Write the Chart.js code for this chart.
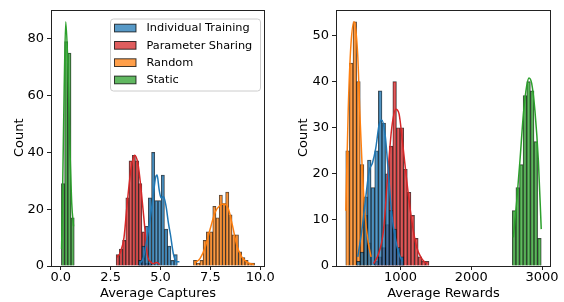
<!DOCTYPE html>
<html>
<head>
<meta charset="utf-8">
<title>Captures and rewards histograms</title>
<script src="https://cdn.jsdelivr.net/npm/chart.js@4"></script>
<style>
  body { margin: 0; background: #fff; }
  #wrap { position: relative; width: 564px; height: 302px; }
  canvas { position: absolute; top: 0; }
  #capChart { left: 0; }
  #rewChart { left: 282px; }
</style>
</head>
<body>
<div id="wrap">
  <canvas id="capChart" width="282" height="302"></canvas>
  <canvas id="rewChart" width="282" height="302"></canvas>
</div>
<script>
// ===== Series =====
let seriesNames = ["Individual Training", "Parameter Sharing", "Random", "Static"];
let seriesColors = ["31,119,180", "214,39,40", "255,127,14", "44,160,44"];

// ===== Left: Average Captures (counts per bin) =====
let capBinStart = 0.03;
let capBinWidth = 0.1615;
let capFirstBin = [24, 17, 41, 0];
let capIndiv = [2, 7, 14, 24, 40, 23, 23, 32, 13, 7, 2, 4];
let capParam = [4, 6, 9, 24, 37, 39, 37, 29, 12, 1, 1];
let capRandom = [2, 1, 2, 9, 12, 12, 21, 17, 25, 22, 26, 18, 11, 11, 5, 3, 2, 1, 1];
let capStatic = [29, 79, 75, 17];

// KDE curves
let capIndivKdeX = [3.95, 4.15, 4.31, 4.47, 4.64, 4.75, 4.83, 4.93, 5.03, 5.15, 5.28, 5.4, 5.5, 5.64, 5.8, 5.95];
let capIndivKdeY = [0.8, 3, 9, 16, 25, 31, 32, 27, 24, 24.5, 21, 15, 11, 4.5, 1.5, 1.5];
let capParamKdeX = [2.83, 3.0, 3.17, 3.33, 3.5, 3.7, 3.87, 4.04, 4.21, 4.34, 4.51, 4.64, 4.81, 4.97];
let capParamKdeY = [3, 5, 10, 22, 33, 39, 36, 26, 13.6, 4, 1.4, 0.8, 1.2, 0.5];
let capRandomKdeX = [6.73, 6.98, 7.24, 7.49, 7.74, 7.99, 8.19, 8.41, 8.61, 8.83, 9.08, 9.33, 9.7];
let capRandomKdeY = [1.2, 2.6, 6.6, 13, 18.9, 21.4, 21.8, 20, 14.2, 7.2, 3.1, 1.4, 0.5];
let capStaticKdeX = [0.04, 0.1, 0.17, 0.25, 0.35, 0.45, 0.55, 0.64];
let capStaticKdeY = [6, 30, 62, 86, 72, 44, 22, 14];

let capXTicks = [0, 2.5, 5, 7.5, 10];
let capYTicks = [0, 20, 40, 60, 80];

// ===== Right: Average Rewards (counts per bin) =====
let rewBinStart = 227;
let rewBinWidth = 51.15;
let rewFirstBin = [3, 8, 0, 46];
let rewIndiv = [1, 3, 15, 23, 17, 25, 38, 31, 20, 12, 8, 4, 2];
let rewParam = [1, 2, 4, 9, 26, 40, 30, 30, 21, 16, 11, 6, 2, 1, 1];
let rewRandom = [25, 44, 53, 40, 22, 11, 5];
let rewStatic = [12, 17, 22, 37, 40, 38, 27, 6];

let rewIndivKdeX = [397, 454, 510, 557, 605, 651, 698, 736, 783, 831, 877, 934, 980, 1028];
let rewIndivKdeY = [2, 7.7, 15, 20.6, 22.4, 25.6, 30.6, 31.7, 28.5, 19.9, 11.3, 5.5, 2.6, 1];
let rewParamKdeX = [619, 689, 760, 821, 877, 934, 980, 1028, 1089, 1160, 1230, 1301, 1372];
let rewParamKdeY = [0.5, 2.6, 7.7, 20, 30, 34, 33, 27, 18.4, 9.8, 4, 1.6, 0.5];
let rewRandomKdeX = [228, 262, 300, 345, 395, 425, 460, 500, 545, 585];
let rewRandomKdeY = [12, 34, 48, 53, 46, 33.5, 21, 11, 5, 2];
let rewStaticKdeX = [2595, 2642, 2689, 2737, 2783, 2816, 2854, 2901, 2949, 2989];
let rewStaticKdeY = [6.2, 14, 23, 33, 39, 40.8, 39.6, 33.5, 22.7, 8];

let rewXTicks = [1000, 2000, 3000];
let rewYTicks = [0, 10, 20, 30, 40, 50];

// ===== Helpers =====
function histBars(first, counts, start, width) {
  return counts.map((c, i) => ({ x: start + (first + i + 0.5) * width, y: c }));
}

function curve(xs, ys) {
  return xs.map((x, i) => ({ x: x, y: ys[i] }));
}

function buildDatasets(counts, firsts, start, width, kdeX, kdeY) {
  let sets = [];
  seriesNames.forEach((name, s) => {
    sets.push({
      type: "bar",
      label: name,
      data: histBars(firsts[s], counts[s], start, width),
      backgroundColor: "rgba(" + seriesColors[s] + ",0.75)",
      borderColor: "rgba(0,0,0,0.75)",
      borderWidth: 0.75,
      barPercentage: 1,
      categoryPercentage: 1,
      grouped: false,
      order: s + 1
    });
  });
  seriesNames.forEach((name, s) => {
    sets.push({
      type: "line",
      label: name + " KDE",
      data: curve(kdeX[s], kdeY[s]),
      borderColor: "rgb(" + seriesColors[s] + ")",
      borderWidth: 1.5,
      pointRadius: 0,
      fill: false,
      cubicInterpolationMode: "monotone",
      order: 0
    });
  });
  return sets;
}

let tickFont = { family: "'DejaVu Sans', sans-serif", size: 13, lineHeight: 1 };
let titleFont = { family: "'DejaVu Sans', sans-serif", size: 13 };

// ===== Frame (all four spines) =====
let framePlugin = {
  id: "frame",
  afterDatasetsDraw(chart) {
    let a = chart.chartArea;
    let ctx = chart.ctx;
    ctx.save();
    ctx.strokeStyle = "#222";
    ctx.lineWidth = 1;
    ctx.strokeRect(Math.round(a.left) + 0.5, Math.round(a.top) + 0.5,
      Math.round(a.right - a.left) - 1, Math.round(a.bottom - a.top) - 1);
    ctx.restore();
  }
};

// ===== Legend box inside the left panel =====
let legendPlugin = {
  id: "boxLegend",
  afterDraw(chart) {
    let a = chart.chartArea;
    let ctx = chart.ctx;
    let bars = chart.data.datasets.filter(d => d.type === "bar");
    let w = 150, h = 72;
    let left = a.right - 5 - w, top = a.top + 9;

    ctx.save();
    ctx.beginPath();
    ctx.roundRect(left + 0.5, top + 0.5, w, h, 3);
    ctx.fillStyle = "rgba(255,255,255,0.8)";
    ctx.fill();
    ctx.strokeStyle = "#cccccc";
    ctx.lineWidth = 1;
    ctx.stroke();

    ctx.font = "11.3px 'DejaVu Sans', sans-serif";
    ctx.textBaseline = "middle";
    bars.forEach((d, i) => {
      let cy = top + 9.5 + i * 17.3;
      ctx.fillStyle = d.backgroundColor;
      ctx.fillRect(left + 4.5, cy - 3.8, 21.5, 7.7);
      ctx.strokeStyle = d.borderColor;
      ctx.strokeRect(left + 4.5, cy - 3.8, 21.5, 7.7);
      ctx.fillStyle = "#000";
      ctx.fillText(d.label, left + 36.5, cy + 0.5);
    });
    ctx.restore();
  }
};

// ===== Options =====
function makeOptions(p) {
  return {
    responsive: false,
    animation: false,
    layout: { padding: { top: 7, right: p.padRight, bottom: 0, left: 0 } },
    plugins: { legend: { display: false }, tooltip: { enabled: false } },
    scales: {
      x: {
        type: "linear",
        min: p.xMin,
        max: p.xMax,
        offset: false,
        afterFit: s => { s.height = 36; },
        afterBuildTicks: s => { s.ticks = p.xTicks.map(v => ({ value: v })); },
        grid: { display: true, offset: false, drawOnChartArea: false, drawTicks: true, tickLength: 4, tickColor: "#222" },
        border: { display: false },
        ticks: { color: "#000", padding: 1, font: tickFont, maxRotation: 0, autoSkip: false, callback: p.xFormat },
        title: { display: true, text: p.xTitle, color: "#000", font: titleFont, padding: { top: 0, bottom: 1 } }
      },
      y: {
        type: "linear",
        min: 0,
        max: p.yMax,
        afterFit: s => { s.width = p.yWidth; },
        afterBuildTicks: s => { s.ticks = p.yTicks.map(v => ({ value: v })); },
        grid: { display: true, drawOnChartArea: false, drawTicks: true, tickLength: 4, tickColor: "#222" },
        border: { display: false },
        ticks: { color: "#000", padding: 3, font: tickFont, callback: v => String(v) },
        title: { display: true, text: "Count", color: "#000", font: titleFont, padding: { top: p.yTitlePad, bottom: 0 } }
      }
    }
  };
}

// ===== Charts =====
let capChart = new Chart(document.getElementById("capChart").getContext("2d"), {
  type: "bar",
  data: {
    datasets: buildDatasets(
      [capIndiv, capParam, capRandom, capStatic], capFirstBin, capBinStart, capBinWidth,
      [capIndivKdeX, capParamKdeX, capRandomKdeX, capStaticKdeX],
      [capIndivKdeY, capParamKdeY, capRandomKdeY, capStaticKdeY])
  },
  options: makeOptions({
    xMin: -0.49, xMax: 10.24, yMax: 90.3, padRight: 17, yWidth: 51, yTitlePad: 12,
    xTicks: capXTicks, yTicks: capYTicks, xTitle: "Average Captures",
    xFormat: v => v.toFixed(1)
  }),
  plugins: [framePlugin, legendPlugin]
});

let rewChart = new Chart(document.getElementById("rewChart").getContext("2d"), {
  type: "bar",
  data: {
    datasets: buildDatasets(
      [rewIndiv, rewParam, rewRandom, rewStatic], rewFirstBin, rewBinStart, rewBinWidth,
      [rewIndivKdeX, rewParamKdeX, rewRandomKdeX, rewStaticKdeX],
      [rewIndivKdeY, rewParamKdeY, rewRandomKdeY, rewStaticKdeY])
  },
  options: makeOptions({
    xMin: 89, xMax: 3127, yMax: 55.65, padRight: 13, yWidth: 54, yTitlePad: 13.5,
    xTicks: rewXTicks, yTicks: rewYTicks, xTitle: "Average Rewards",
    xFormat: v => String(v)
  }),
  plugins: [framePlugin]
});
</script>
</body>
</html>
